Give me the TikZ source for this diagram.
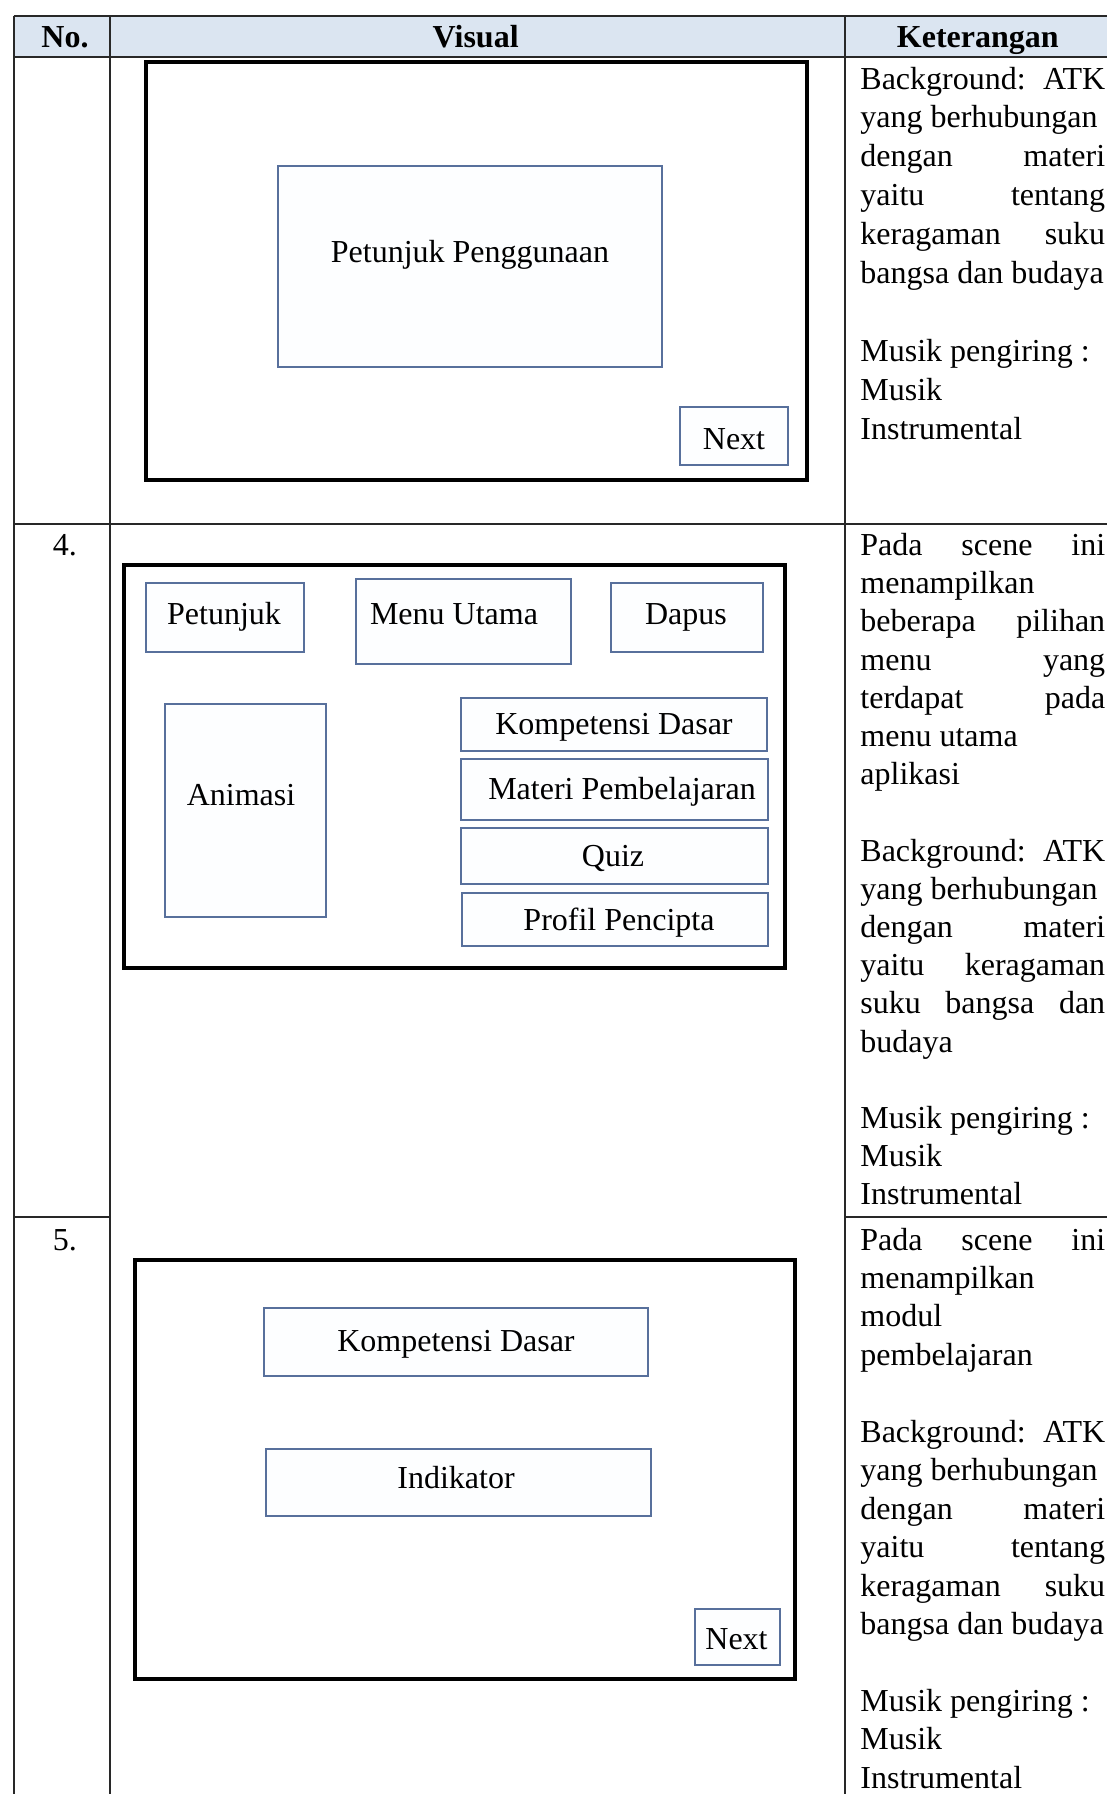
\documentclass[tikz,border=0pt]{standalone}
\usepackage{fontspec}
\setmainfont{Liberation Serif}
\definecolor{hdr}{RGB}{219,229,241}
\definecolor{boxline}{RGB}{88,112,156}
\definecolor{boxfill}{RGB}{253,254,255}
\definecolor{gridc}{RGB}{40,40,40}
\newcommand\justline[1]{\hbox to 122.4pt{#1}}
\newcommand\mkbox[6]{\node[#1,anchor=north west,minimum width={(#5-#3)*0.5pt},minimum height={(#6-#4)*0.5pt}] (#2) at (#3,#4) {};}
\begin{document}
\begin{tikzpicture}[x=0.5pt,y=-0.5pt,
  font=\fontsize{16}{19}\selectfont,
  frame/.style={draw=black,line width=2pt,fill=white,inner sep=0pt},
  bluebox/.style={draw=boxline,line width=1.1pt,fill=boxfill,inner sep=0pt},
  lbl/.style={inner sep=0pt,anchor=base},
  kline/.style={inner sep=0pt,anchor=base west},
  hd/.style={inner sep=0pt,anchor=base,font=\fontsize{16}{19}\selectfont\bfseries},
  gridline/.style={draw=gridc,line width=0.8pt}]

\useasboundingbox (0,0) rectangle (1107,1794);
\fill[white] (0,0) rectangle (1107,1794);

% header band
\fill[hdr] (13.7,16) rectangle (1107,57.2);

% table rules
\draw[gridline] (13.7,16) -- (1107,16);
\draw[gridline] (13.7,57.2) -- (1107,57.2);
\draw[gridline] (13.7,523.8) -- (1107,523.8);
\draw[gridline] (13.7,1216.8) -- (109.8,1216.8);
\draw[gridline] (845,1216.8) -- (1107,1216.8);
\draw[gridline] (13.7,16) -- (13.7,1794);
\draw[gridline] (109.8,16) -- (109.8,1794);
\draw[gridline] (845,16) -- (845,1794);

% header texts
\node[hd] (hno) at (65,47) {No.};
\node[hd] (hvis) at (475.7,47) {Visual};
\node[hd] (hket) at (977.8,47) {Keterangan};

% row numbers
\node[lbl] (n4) at (65,555.5) {4.};
\node[lbl] (n5) at (65,1250) {5.};

% ---------- row 1 mockup ----------
\mkbox{frame}{f1}{144}{59.5}{805}{478}
\mkbox{bluebox}{pp}{276.7}{164.7}{661}{366}
\mkbox{bluebox}{nx1}{679}{406}{787}{464}
\node[lbl] (tpp) at (470,262) {Petunjuk Penggunaan};
\node[lbl] (tnx1) at (734,449) {Next};

% ---------- row 4 mockup ----------
\mkbox{frame}{f4}{122}{562.6}{783}{966}
\mkbox{bluebox}{pet}{145}{582}{303}{651}
\mkbox{bluebox}{mu}{354.5}{577.5}{569.5}{663}
\mkbox{bluebox}{dap}{609.5}{582}{761.6}{651}
\mkbox{bluebox}{ani}{163.5}{703}{324.8}{916}
\mkbox{bluebox}{kd}{459.7}{696.5}{766}{750}
\mkbox{bluebox}{mp}{459.7}{758}{767}{819}
\mkbox{bluebox}{qz}{459.7}{827}{767}{883}
\mkbox{bluebox}{pc}{461}{892}{767}{944.6}
\node[lbl] (tpet) at (224,624) {Petunjuk};
\node[lbl] (tmu) at (454,624) {Menu Utama};
\node[lbl] (tdap) at (686,624) {Dapus};
\node[lbl] (tani) at (241,805) {Animasi};
\node[lbl] (tkd) at (614,734) {Kompetensi Dasar};
\node[lbl] (tmp) at (622,799) {Materi Pembelajaran};
\node[lbl] (tqz) at (613,866.5) {Quiz};
\node[lbl] (tpc) at (619,930.6) {Profil Pencipta};

% ---------- row 5 mockup ----------
\mkbox{frame}{f5}{132.7}{1258}{792.5}{1676.5}
\mkbox{bluebox}{kd5}{263}{1307}{647}{1374.6}
\mkbox{bluebox}{ind}{265}{1448}{649.5}{1515}
\mkbox{bluebox}{nx5}{694}{1608}{778.8}{1664}
\node[lbl] (tkd5) at (456,1351) {Kompetensi Dasar};
\node[lbl] (tind) at (456,1488.6) {Indikator};
\node[lbl] (tnx5) at (736.5,1649) {Next};

% ---------- Keterangan texts ----------
\foreach \i/\t in {0/{\justline{Background:\hfill ATK}},
                   1/{yang berhubungan},
                   2/{\justline{dengan\hfill materi}},
                   3/{\justline{yaitu\hfill tentang}},
                   4/{\justline{keragaman\hfill suku}},
                   5/{bangsa dan budaya},
                   7/{Musik pengiring :},
                   8/{Musik},
                   9/{Instrumental}}
  \node[kline] (ka\i) at (860,{89+38.9*\i}) {\t};

\foreach \i/\t in {0/{\justline{Pada\hfill scene\hfill ini}},
                   1/{menampilkan},
                   2/{\justline{beberapa\hfill pilihan}},
                   3/{\justline{menu\hfill yang}},
                   4/{\justline{terdapat\hfill pada}},
                   5/{menu utama},
                   6/{aplikasi},
                   8/{\justline{Background:\hfill ATK}},
                   9/{yang berhubungan},
                   10/{\justline{dengan\hfill materi}},
                   11/{\justline{yaitu\hfill keragaman}},
                   12/{\justline{suku\hfill bangsa\hfill dan}},
                   13/{budaya},
                   15/{Musik pengiring :},
                   16/{Musik},
                   17/{Instrumental}}
  \node[kline] (kb\i) at (860,{555.5+38.2*\i}) {\t};

\foreach \i/\t in {0/{\justline{Pada\hfill scene\hfill ini}},
                   1/{menampilkan},
                   2/{modul},
                   3/{pembelajaran},
                   5/{\justline{Background:\hfill ATK}},
                   6/{yang berhubungan},
                   7/{\justline{dengan\hfill materi}},
                   8/{\justline{yaitu\hfill tentang}},
                   9/{\justline{keragaman\hfill suku}},
                   10/{bangsa dan budaya},
                   12/{Musik pengiring :},
                   13/{Musik},
                   14/{Instrumental}}
  \node[kline] (kc\i) at (860,{1250+38.45*\i}) {\t};

\end{tikzpicture}
\end{document}
